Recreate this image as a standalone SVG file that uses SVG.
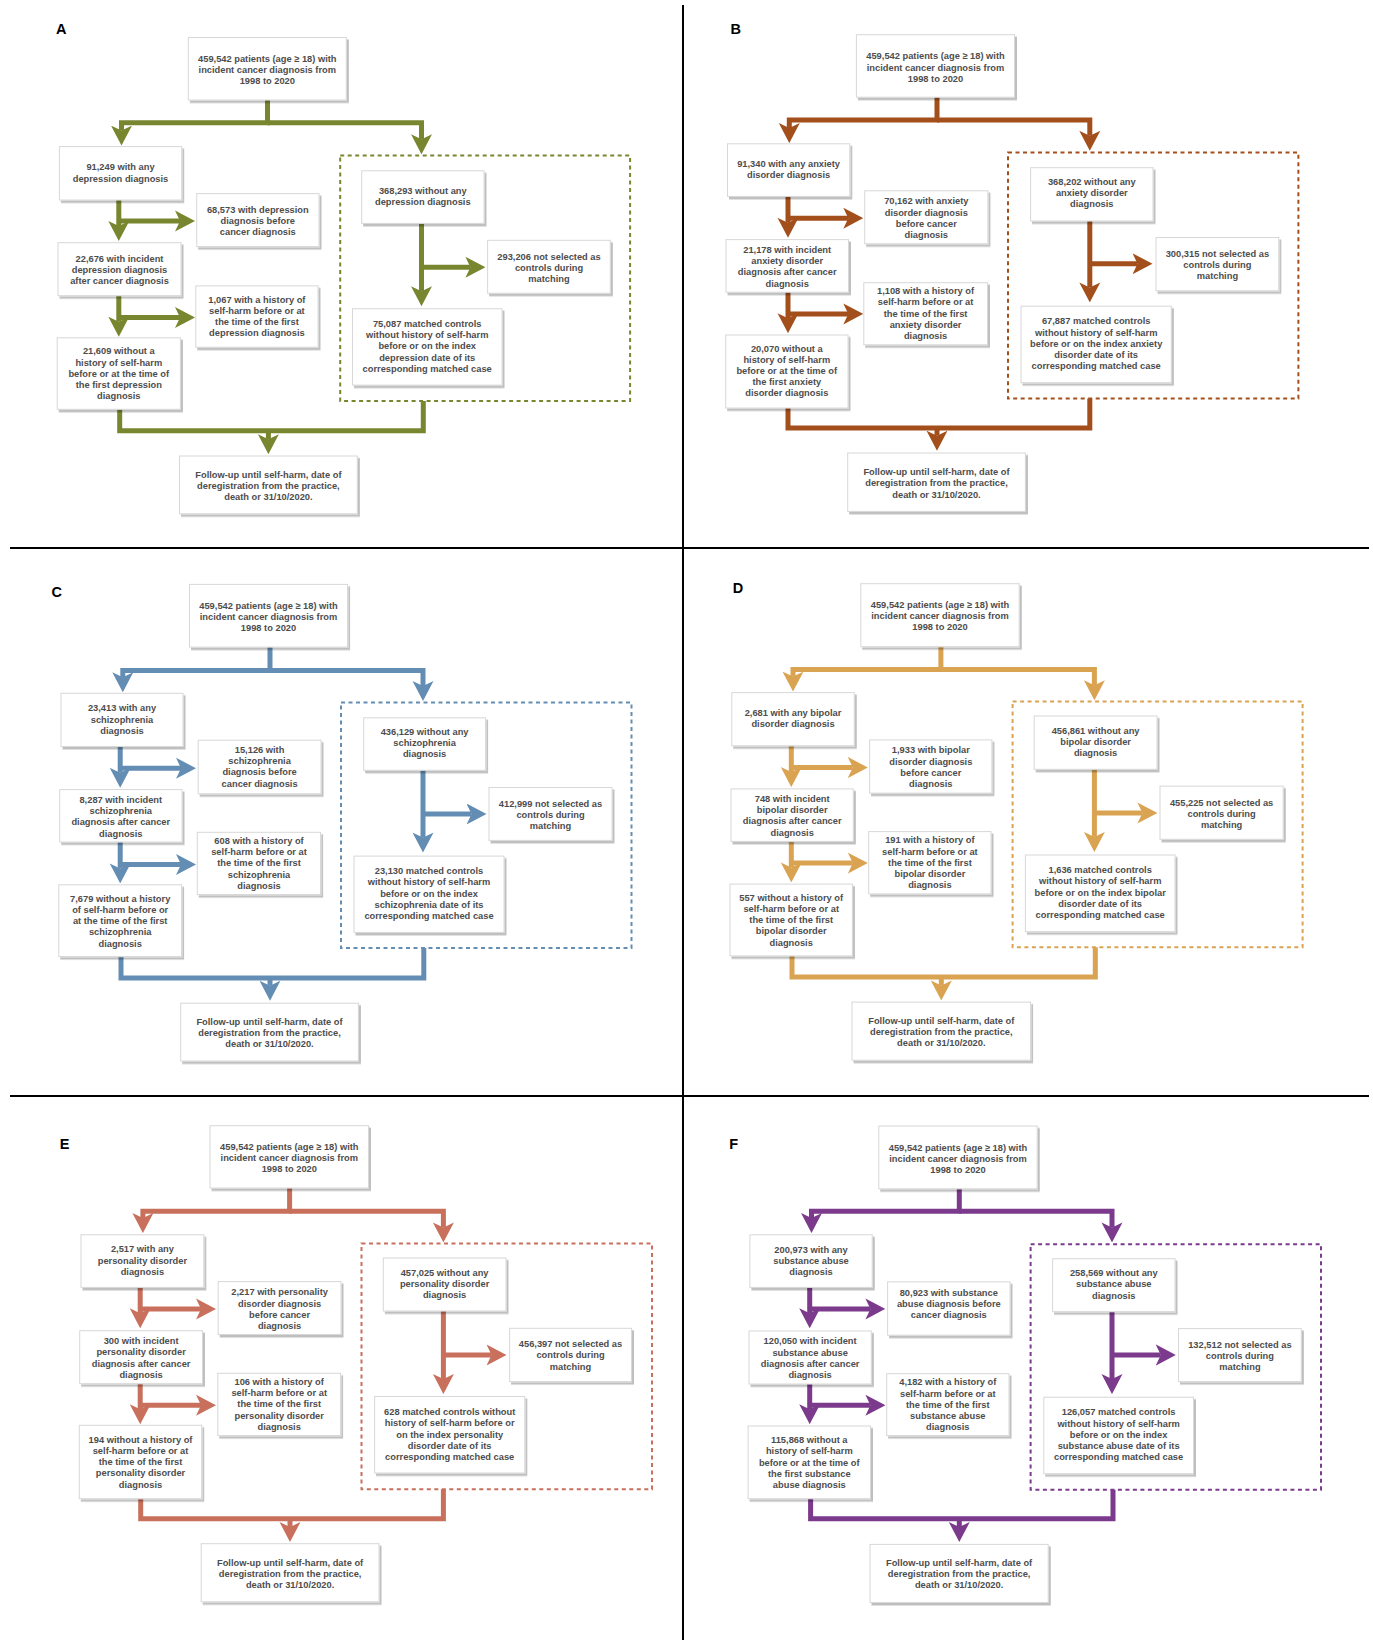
<svg xmlns="http://www.w3.org/2000/svg" width="1373" height="1640" viewBox="0 0 1373 1640">
<defs>
<style>
.bx{fill:#fff;stroke:#d8d8d8;stroke-width:1;filter:url(#sh)}
.t{font-family:"Liberation Sans",Arial,sans-serif;font-weight:bold;font-size:9.3px;fill:#4d4d4d;text-anchor:middle}
.lbl{font-family:"Liberation Sans",Arial,sans-serif;font-weight:bold;font-size:14.5px;fill:#000}
.c{fill:none;stroke-width:5;stroke-linejoin:miter;stroke-linecap:butt}
.d{fill:none;stroke-width:2;stroke-dasharray:4 3.5}
.cA{stroke:#78862f}.cB{stroke:#a34f1c}.cC{stroke:#648db4}.cD{stroke:#d9a352}.cE{stroke:#c8705c}.cF{stroke:#7b3a8c}
.div{stroke:#000;stroke-width:2}
</style>
<filter id="sh" x="-10%" y="-10%" width="125%" height="130%">
<feDropShadow dx="2" dy="2.5" stdDeviation="0.6" flood-color="#000" flood-opacity="0.25"/>
</filter>
<marker id="mA" viewBox="-20 -11 20 22" refX="-15" refY="0" markerWidth="20" markerHeight="22" markerUnits="userSpaceOnUse" orient="auto"><path d="M0,0 L-20,-10.5 L-15,0 L-20,10.5 Z" fill="#78862f"/></marker>
<marker id="mB" viewBox="-20 -11 20 22" refX="-15" refY="0" markerWidth="20" markerHeight="22" markerUnits="userSpaceOnUse" orient="auto"><path d="M0,0 L-20,-10.5 L-15,0 L-20,10.5 Z" fill="#a34f1c"/></marker>
<marker id="mC" viewBox="-20 -11 20 22" refX="-15" refY="0" markerWidth="20" markerHeight="22" markerUnits="userSpaceOnUse" orient="auto"><path d="M0,0 L-20,-10.5 L-15,0 L-20,10.5 Z" fill="#648db4"/></marker>
<marker id="mD" viewBox="-20 -11 20 22" refX="-15" refY="0" markerWidth="20" markerHeight="22" markerUnits="userSpaceOnUse" orient="auto"><path d="M0,0 L-20,-10.5 L-15,0 L-20,10.5 Z" fill="#d9a352"/></marker>
<marker id="mE" viewBox="-20 -11 20 22" refX="-15" refY="0" markerWidth="20" markerHeight="22" markerUnits="userSpaceOnUse" orient="auto"><path d="M0,0 L-20,-10.5 L-15,0 L-20,10.5 Z" fill="#c8705c"/></marker>
<marker id="mF" viewBox="-20 -11 20 22" refX="-15" refY="0" markerWidth="20" markerHeight="22" markerUnits="userSpaceOnUse" orient="auto"><path d="M0,0 L-20,-10.5 L-15,0 L-20,10.5 Z" fill="#7b3a8c"/></marker>
</defs>
<rect width="1373" height="1640" fill="#fff"/>
<g id="dividers">
<line class="div" x1="683" y1="5" x2="683" y2="1640"/>
<line class="div" x1="10" y1="548" x2="1369" y2="548"/>
<line class="div" x1="10" y1="1096" x2="1369" y2="1096"/>
</g>

<!-- Panel A -->
<g id="panelA">
<text class="lbl" x="56" y="33.5">A</text>
<rect id="A-group" class="d cA" x="340.2" y="155.4" width="289.9" height="245.6"/>
<g id="A-connectors">
<path class="c cA" d="M267.5,100 V122.8 H121.5 V130.6" marker-end="url(#mA)"/>
<path class="c cA" d="M267.5,122.8 H421.5 V139.3" marker-end="url(#mA)"/>
<path class="c cA" d="M118.8,200 V226" marker-end="url(#mA)"/>
<path class="c cA" d="M118.8,221 H180" marker-end="url(#mA)"/>
<path class="c cA" d="M118.8,295.7 V321.7" marker-end="url(#mA)"/>
<path class="c cA" d="M118.8,317.4 H180" marker-end="url(#mA)"/>
<path class="c cA" d="M421.5,223.4 V291.2" marker-end="url(#mA)"/>
<path class="c cA" d="M421.5,267.3 H470.4" marker-end="url(#mA)"/>
<path class="c cA" d="M119.7,409.3 V430.7 H423.3 V401"/>
<path class="c cA" d="M268.4,430.7 V439.2" marker-end="url(#mA)"/>
</g>
<g id="A0"><rect class="bx" x="188.3" y="37.5" width="158" height="62.5"/><text class="t"><tspan x="267.3" y="61.9">459,542 patients (age ≥ 18) with</tspan><tspan x="267.3" y="73.1">incident cancer diagnosis from</tspan><tspan x="267.3" y="84.3">1998 to 2020</tspan></text></g>
<g id="A1"><rect class="bx" x="59.4" y="146.6" width="122.3" height="53.4"/><text class="t"><tspan x="120.5" y="170.3">91,249 with any</tspan><tspan x="120.5" y="181.5">depression diagnosis</tspan></text></g>
<g id="A2"><rect class="bx" x="196.7" y="193.6" width="122.3" height="53"/><text class="t"><tspan x="257.8" y="213">68,573 with depression</tspan><tspan x="257.8" y="224.2">diagnosis before</tspan><tspan x="257.8" y="235.4">cancer diagnosis</tspan></text></g>
<g id="A3"><rect class="bx" x="58" y="242.7" width="123" height="53"/><text class="t"><tspan x="119.5" y="261.8">22,676 with incident</tspan><tspan x="119.5" y="273">depression diagnosis</tspan><tspan x="119.5" y="284.2">after cancer diagnosis</tspan></text></g>
<g id="A4"><rect class="bx" x="195.8" y="285.9" width="122.2" height="61.3"/><text class="t"><tspan x="256.9" y="302.5">1,067 with a history of</tspan><tspan x="256.9" y="313.7">self-harm before or at</tspan><tspan x="256.9" y="324.9">the time of the first</tspan><tspan x="256.9" y="336.1">depression diagnosis</tspan></text></g>
<g id="A5"><rect class="bx" x="57.2" y="337.8" width="123.2" height="71.5"/><text class="t"><tspan x="118.8" y="354.4">21,609 without a</tspan><tspan x="118.8" y="365.6">history of self-harm</tspan><tspan x="118.8" y="376.8">before or at the time of</tspan><tspan x="118.8" y="388">the first depression</tspan><tspan x="118.8" y="399.2">diagnosis</tspan></text></g>
<g id="A6"><rect class="bx" x="361.7" y="170.8" width="122.3" height="52.6"/><text class="t"><tspan x="422.8" y="193.8">368,293 without any</tspan><tspan x="422.8" y="205">depression diagnosis</tspan></text></g>
<g id="A7"><rect class="bx" x="487.6" y="240.3" width="122.7" height="52.9"/><text class="t"><tspan x="549" y="259.7">293,206 not selected as</tspan><tspan x="549" y="270.9">controls during</tspan><tspan x="549" y="282.1">matching</tspan></text></g>
<g id="A8"><rect class="bx" x="352.5" y="308.7" width="149.5" height="76.4"/><text class="t"><tspan x="427.2" y="327">75,087 matched controls</tspan><tspan x="427.2" y="338.2">without history of self-harm</tspan><tspan x="427.2" y="349.4">before or on the index</tspan><tspan x="427.2" y="360.6">depression date of its</tspan><tspan x="427.2" y="371.8">corresponding matched case</tspan></text></g>
<g id="A9"><rect class="bx" x="179.5" y="456" width="177.8" height="57.8"/><text class="t"><tspan x="268.4" y="477.9">Follow-up until self-harm, date of</tspan><tspan x="268.4" y="489.1">deregistration from the practice,</tspan><tspan x="268.4" y="500.3">death or 31/10/2020.</tspan></text></g>
</g>

<!-- Panel B -->
<g id="panelB">
<text class="lbl" x="730.5" y="34">B</text>
<rect id="B-group" class="d cB" x="1008" y="152.6" width="290.4" height="245.9"/>
<g id="B-connectors">
<path class="c cB" d="M937,97.2 V120 H789.3 V128.1" marker-end="url(#mB)"/>
<path class="c cB" d="M937,120 H1089.8 V135.8" marker-end="url(#mB)"/>
<path class="c cB" d="M788,196.4 V222.8" marker-end="url(#mB)"/>
<path class="c cB" d="M788,218.2 H848.3" marker-end="url(#mB)"/>
<path class="c cB" d="M788,292.2 V318.2" marker-end="url(#mB)"/>
<path class="c cB" d="M788,313.9 H848.3" marker-end="url(#mB)"/>
<path class="c cB" d="M1089.8,221 V287.4" marker-end="url(#mB)"/>
<path class="c cB" d="M1089.8,263.8 H1137.5" marker-end="url(#mB)"/>
<path class="c cB" d="M788,408 V428 H1089.8 V398.5"/>
<path class="c cB" d="M937,428 V435.7" marker-end="url(#mB)"/>
</g>
<g id="B0"><rect class="bx" x="856.4" y="34.7" width="158.1" height="62.5"/><text class="t"><tspan x="935.5" y="59.4">459,542 patients (age ≥ 18) with</tspan><tspan x="935.5" y="70.6">incident cancer diagnosis from</tspan><tspan x="935.5" y="81.8">1998 to 2020</tspan></text></g>
<g id="B1"><rect class="bx" x="727.5" y="143.8" width="122.3" height="52.6"/><text class="t"><tspan x="788.6" y="167.1">91,340 with any anxiety</tspan><tspan x="788.6" y="178.3">disorder diagnosis</tspan></text></g>
<g id="B2"><rect class="bx" x="864.7" y="190.8" width="123.2" height="53"/><text class="t"><tspan x="926.3" y="204.3">70,162 with anxiety</tspan><tspan x="926.3" y="215.5">disorder diagnosis</tspan><tspan x="926.3" y="226.7">before cancer</tspan><tspan x="926.3" y="237.9">diagnosis</tspan></text></g>
<g id="B3"><rect class="bx" x="726" y="239.6" width="122.5" height="52.6"/><text class="t"><tspan x="787.2" y="253">21,178 with incident</tspan><tspan x="787.2" y="264.2">anxiety disorder</tspan><tspan x="787.2" y="275.4">diagnosis after cancer</tspan><tspan x="787.2" y="286.6">diagnosis</tspan></text></g>
<g id="B4"><rect class="bx" x="863.8" y="282.7" width="123.7" height="62.1"/><text class="t"><tspan x="925.6" y="294.1">1,108 with a history of</tspan><tspan x="925.6" y="305.3">self-harm before or at</tspan><tspan x="925.6" y="316.5">the time of the first</tspan><tspan x="925.6" y="327.7">anxiety disorder</tspan><tspan x="925.6" y="338.9">diagnosis</tspan></text></g>
<g id="B5"><rect class="bx" x="725.7" y="335" width="122.3" height="73"/><text class="t"><tspan x="786.8" y="351.6">20,070 without a</tspan><tspan x="786.8" y="362.8">history of self-harm</tspan><tspan x="786.8" y="374">before or at the time of</tspan><tspan x="786.8" y="385.2">the first anxiety</tspan><tspan x="786.8" y="396.4">disorder diagnosis</tspan></text></g>
<g id="B6"><rect class="bx" x="1030.6" y="167.7" width="122.4" height="53.3"/><text class="t"><tspan x="1091.8" y="185">368,202 without any</tspan><tspan x="1091.8" y="196.2">anxiety disorder</tspan><tspan x="1091.8" y="207.4">diagnosis</tspan></text></g>
<g id="B7"><rect class="bx" x="1156" y="237.5" width="122.8" height="53.3"/><text class="t"><tspan x="1217.4" y="256.5">300,315 not selected as</tspan><tspan x="1217.4" y="267.7">controls during</tspan><tspan x="1217.4" y="278.9">matching</tspan></text></g>
<g id="B8"><rect class="bx" x="1021" y="306.2" width="150.3" height="76.5"/><text class="t"><tspan x="1096.2" y="324.3">67,887 matched controls</tspan><tspan x="1096.2" y="335.5">without history of self-harm</tspan><tspan x="1096.2" y="346.7">before or on the index anxiety</tspan><tspan x="1096.2" y="357.9">disorder date of its</tspan><tspan x="1096.2" y="369.1">corresponding matched case</tspan></text></g>
<g id="B9"><rect class="bx" x="847.7" y="453" width="177.7" height="58.4"/><text class="t"><tspan x="936.5" y="475.1">Follow-up until self-harm, date of</tspan><tspan x="936.5" y="486.3">deregistration from the practice,</tspan><tspan x="936.5" y="497.5">death or 31/10/2020.</tspan></text></g>
</g>

<!-- Panel C -->
<g id="panelC">
<text class="lbl" x="51.4" y="597">C</text>
<rect id="C-group" class="d cC" x="341" y="702.4" width="290.5" height="245.5"/>
<g id="C-connectors">
<path class="c cC" d="M270,647.1 V670.5 H122.8 V677.3" marker-end="url(#mC)"/>
<path class="c cC" d="M270,670.5 H423 V686" marker-end="url(#mC)"/>
<path class="c cC" d="M120.2,746.5 V772.8" marker-end="url(#mC)"/>
<path class="c cC" d="M120.2,768.2 H181" marker-end="url(#mC)"/>
<path class="c cC" d="M120.2,842 V868.4" marker-end="url(#mC)"/>
<path class="c cC" d="M120.2,864.5 H181" marker-end="url(#mC)"/>
<path class="c cC" d="M423,770.3 V837.6" marker-end="url(#mC)"/>
<path class="c cC" d="M423,814.1 H471.5" marker-end="url(#mC)"/>
<path class="c cC" d="M121,956.6 V978 H423.8 V947.9"/>
<path class="c cC" d="M270,978 V985.7" marker-end="url(#mC)"/>
</g>
<g id="C0"><rect class="bx" x="189.5" y="584.4" width="158.1" height="62.7"/><text class="t"><tspan x="268.5" y="608.7">459,542 patients (age ≥ 18) with</tspan><tspan x="268.5" y="619.9">incident cancer diagnosis from</tspan><tspan x="268.5" y="631.1">1998 to 2020</tspan></text></g>
<g id="C1"><rect class="bx" x="61" y="693.3" width="122" height="53.2"/><text class="t"><tspan x="122" y="711.3">23,413 with any</tspan><tspan x="122" y="722.5">schizophrenia</tspan><tspan x="122" y="733.7">diagnosis</tspan></text></g>
<g id="C2"><rect class="bx" x="198.2" y="740.2" width="122.8" height="53.6"/><text class="t"><tspan x="259.6" y="753">15,126 with</tspan><tspan x="259.6" y="764.2">schizophrenia</tspan><tspan x="259.6" y="775.4">diagnosis before</tspan><tspan x="259.6" y="786.6">cancer diagnosis</tspan></text></g>
<g id="C3"><rect class="bx" x="59.7" y="789.6" width="122.3" height="52.4"/><text class="t"><tspan x="120.8" y="803">8,287 with incident</tspan><tspan x="120.8" y="814.2">schizophrenia</tspan><tspan x="120.8" y="825.4">diagnosis after cancer</tspan><tspan x="120.8" y="836.6">diagnosis</tspan></text></g>
<g id="C4"><rect class="bx" x="197.3" y="832.3" width="123.3" height="62.3"/><text class="t"><tspan x="259" y="844">608 with a history of</tspan><tspan x="259" y="855.2">self-harm before or at</tspan><tspan x="259" y="866.4">the time of the first</tspan><tspan x="259" y="877.6">schizophrenia</tspan><tspan x="259" y="888.8">diagnosis</tspan></text></g>
<g id="C5"><rect class="bx" x="58.8" y="884.8" width="122.8" height="71.8"/><text class="t"><tspan x="120.2" y="901.8">7,679 without a history</tspan><tspan x="120.2" y="913">of self-harm before or</tspan><tspan x="120.2" y="924.2">at the time of the first</tspan><tspan x="120.2" y="935.4">schizophrenia</tspan><tspan x="120.2" y="946.6">diagnosis</tspan></text></g>
<g id="C6"><rect class="bx" x="363.7" y="717.8" width="121.9" height="52.5"/><text class="t"><tspan x="424.6" y="734.8">436,129 without any</tspan><tspan x="424.6" y="746">schizophrenia</tspan><tspan x="424.6" y="757.2">diagnosis</tspan></text></g>
<g id="C7"><rect class="bx" x="489" y="787.5" width="123" height="52.9"/><text class="t"><tspan x="550.5" y="806.6">412,999 not selected as</tspan><tspan x="550.5" y="817.8">controls during</tspan><tspan x="550.5" y="829">matching</tspan></text></g>
<g id="C8"><rect class="bx" x="354" y="856.1" width="150" height="76.3"/><text class="t"><tspan x="429" y="874.1">23,130 matched controls</tspan><tspan x="429" y="885.3">without history of self-harm</tspan><tspan x="429" y="896.5">before or on the index</tspan><tspan x="429" y="907.7">schizophrenia date of its</tspan><tspan x="429" y="918.9">corresponding matched case</tspan></text></g>
<g id="C9"><rect class="bx" x="180.7" y="1003.2" width="177.7" height="57.8"/><text class="t"><tspan x="269.5" y="1024.7">Follow-up until self-harm, date of</tspan><tspan x="269.5" y="1035.9">deregistration from the practice,</tspan><tspan x="269.5" y="1047.1">death or 31/10/2020.</tspan></text></g>
</g>

<!-- Panel D -->
<g id="panelD">
<text class="lbl" x="732.7" y="592.5">D</text>
<rect id="D-group" class="d cD" x="1012.6" y="701.4" width="290" height="245.8"/>
<g id="D-connectors">
<path class="c cD" d="M940.9,646.7 V669.5 H793 V676.6" marker-end="url(#mD)"/>
<path class="c cD" d="M940.9,669.5 H1094.4 V685.3" marker-end="url(#mD)"/>
<path class="c cD" d="M791.3,745.8 V772.1" marker-end="url(#mD)"/>
<path class="c cD" d="M791.3,767.5 H852.8" marker-end="url(#mD)"/>
<path class="c cD" d="M791.3,841.4 V867.4" marker-end="url(#mD)"/>
<path class="c cD" d="M791.3,863.1 H852.8" marker-end="url(#mD)"/>
<path class="c cD" d="M1094.4,769.3 V836.9" marker-end="url(#mD)"/>
<path class="c cD" d="M1094.4,813 H1142.4" marker-end="url(#mD)"/>
<path class="c cD" d="M792,955.9 V977 H1095.3 V947.2"/>
<path class="c cD" d="M941.3,977 V985.4" marker-end="url(#mD)"/>
</g>
<g id="D0"><rect class="bx" x="860.8" y="583.7" width="158.4" height="63"/><text class="t"><tspan x="940" y="608">459,542 patients (age ≥ 18) with</tspan><tspan x="940" y="619.2">incident cancer diagnosis from</tspan><tspan x="940" y="630.4">1998 to 2020</tspan></text></g>
<g id="D1"><rect class="bx" x="731.8" y="692.6" width="122.4" height="53.2"/><text class="t"><tspan x="793" y="716.2">2,681 with any bipolar</tspan><tspan x="793" y="727.4">disorder diagnosis</tspan></text></g>
<g id="D2"><rect class="bx" x="869.6" y="739.9" width="122.3" height="53.2"/><text class="t"><tspan x="930.8" y="753.3">1,933 with bipolar</tspan><tspan x="930.8" y="764.5">disorder diagnosis</tspan><tspan x="930.8" y="775.7">before cancer</tspan><tspan x="930.8" y="786.9">diagnosis</tspan></text></g>
<g id="D3"><rect class="bx" x="731" y="788.9" width="122.3" height="52.5"/><text class="t"><tspan x="792.2" y="802">748 with incident</tspan><tspan x="792.2" y="813.2">bipolar disorder</tspan><tspan x="792.2" y="824.4">diagnosis after cancer</tspan><tspan x="792.2" y="835.6">diagnosis</tspan></text></g>
<g id="D4"><rect class="bx" x="868.7" y="831.6" width="122.3" height="62.3"/><text class="t"><tspan x="929.9" y="843.3">191 with a history of</tspan><tspan x="929.9" y="854.5">self-harm before or at</tspan><tspan x="929.9" y="865.7">the time of the first</tspan><tspan x="929.9" y="876.9">bipolar disorder</tspan><tspan x="929.9" y="888.1">diagnosis</tspan></text></g>
<g id="D5"><rect class="bx" x="730" y="884.1" width="122.4" height="71.8"/><text class="t"><tspan x="791.2" y="900.7">557 without a history of</tspan><tspan x="791.2" y="911.9">self-harm before or at</tspan><tspan x="791.2" y="923.1">the time of the first</tspan><tspan x="791.2" y="934.3">bipolar disorder</tspan><tspan x="791.2" y="945.5">diagnosis</tspan></text></g>
<g id="D6"><rect class="bx" x="1034.2" y="716" width="122.8" height="53.3"/><text class="t"><tspan x="1095.6" y="733.7">456,861 without any</tspan><tspan x="1095.6" y="744.9">bipolar disorder</tspan><tspan x="1095.6" y="756.1">diagnosis</tspan></text></g>
<g id="D7"><rect class="bx" x="1160" y="786.1" width="123.2" height="53.2"/><text class="t"><tspan x="1221.6" y="805.5">455,225 not selected as</tspan><tspan x="1221.6" y="816.7">controls during</tspan><tspan x="1221.6" y="827.9">matching</tspan></text></g>
<g id="D8"><rect class="bx" x="1025.4" y="855" width="149.6" height="76.7"/><text class="t"><tspan x="1100.2" y="873.1">1,636 matched controls</tspan><tspan x="1100.2" y="884.3">without history of self-harm</tspan><tspan x="1100.2" y="895.5">before or on the index bipolar</tspan><tspan x="1100.2" y="906.7">disorder date of its</tspan><tspan x="1100.2" y="917.9">corresponding matched case</tspan></text></g>
<g id="D9"><rect class="bx" x="852" y="1002.1" width="178.6" height="58.1"/><text class="t"><tspan x="941.3" y="1024">Follow-up until self-harm, date of</tspan><tspan x="941.3" y="1035.2">deregistration from the practice,</tspan><tspan x="941.3" y="1046.4">death or 31/10/2020.</tspan></text></g>
</g>

<!-- Panel E -->
<g id="panelE">
<text class="lbl" x="59.7" y="1149">E</text>
<rect id="E-group" class="d cE" x="361.5" y="1243.5" width="290.5" height="245.8"/>
<g id="E-connectors">
<path class="c cE" d="M289.6,1188 V1211.3 H142.9 V1218.1" marker-end="url(#mE)"/>
<path class="c cE" d="M289.6,1211.3 H443.4 V1227.4" marker-end="url(#mE)"/>
<path class="c cE" d="M140.2,1287.4 V1313.3" marker-end="url(#mE)"/>
<path class="c cE" d="M140.2,1308.9 H201" marker-end="url(#mE)"/>
<path class="c cE" d="M140.2,1383.7 V1409.2" marker-end="url(#mE)"/>
<path class="c cE" d="M140.2,1405.2 H201" marker-end="url(#mE)"/>
<path class="c cE" d="M443.4,1311 V1379.1" marker-end="url(#mE)"/>
<path class="c cE" d="M443.4,1355 H491.5" marker-end="url(#mE)"/>
<path class="c cE" d="M140.7,1498.7 V1518.7 H443.4 V1489.3"/>
<path class="c cE" d="M290,1518.7 V1527" marker-end="url(#mE)"/>
</g>
<g id="E0"><rect class="bx" x="210" y="1125.7" width="158.5" height="62.3"/><text class="t"><tspan x="289.3" y="1149.8">459,542 patients (age ≥ 18) with</tspan><tspan x="289.3" y="1161">incident cancer diagnosis from</tspan><tspan x="289.3" y="1172.2">1998 to 2020</tspan></text></g>
<g id="E1"><rect class="bx" x="81" y="1234.8" width="122.8" height="52.6"/><text class="t"><tspan x="142.4" y="1252.3">2,517 with any</tspan><tspan x="142.4" y="1263.5">personality disorder</tspan><tspan x="142.4" y="1274.7">diagnosis</tspan></text></g>
<g id="E2"><rect class="bx" x="218.2" y="1281.6" width="122.8" height="52.9"/><text class="t"><tspan x="279.6" y="1295.3">2,217 with personality</tspan><tspan x="279.6" y="1306.5">disorder diagnosis</tspan><tspan x="279.6" y="1317.7">before cancer</tspan><tspan x="279.6" y="1328.9">diagnosis</tspan></text></g>
<g id="E3"><rect class="bx" x="79.7" y="1330.7" width="122.8" height="53"/><text class="t"><tspan x="141.1" y="1344.1">300 with incident</tspan><tspan x="141.1" y="1355.3">personality disorder</tspan><tspan x="141.1" y="1366.5">diagnosis after cancer</tspan><tspan x="141.1" y="1377.7">diagnosis</tspan></text></g>
<g id="E4"><rect class="bx" x="217.8" y="1373.3" width="122.8" height="62.3"/><text class="t"><tspan x="279.2" y="1384.9">106 with a history of</tspan><tspan x="279.2" y="1396.1">self-harm before or at</tspan><tspan x="279.2" y="1407.3">the time of the first</tspan><tspan x="279.2" y="1418.5">personality disorder</tspan><tspan x="279.2" y="1429.7">diagnosis</tspan></text></g>
<g id="E5"><rect class="bx" x="79.3" y="1425.3" width="122.4" height="73.4"/><text class="t"><tspan x="140.5" y="1442.7">194 without a history of</tspan><tspan x="140.5" y="1453.9">self-harm before or at</tspan><tspan x="140.5" y="1465.1">the time of the first</tspan><tspan x="140.5" y="1476.3">personality disorder</tspan><tspan x="140.5" y="1487.5">diagnosis</tspan></text></g>
<g id="E6"><rect class="bx" x="383.3" y="1258" width="122.7" height="53"/><text class="t"><tspan x="444.6" y="1275.9">457,025 without any</tspan><tspan x="444.6" y="1287.1">personality disorder</tspan><tspan x="444.6" y="1298.3">diagnosis</tspan></text></g>
<g id="E7"><rect class="bx" x="509.6" y="1328.3" width="121.9" height="53.3"/><text class="t"><tspan x="570.5" y="1347.2">456,397 not selected as</tspan><tspan x="570.5" y="1358.4">controls during</tspan><tspan x="570.5" y="1369.6">matching</tspan></text></g>
<g id="E8"><rect class="bx" x="374.6" y="1396.5" width="150.2" height="76.5"/><text class="t"><tspan x="449.7" y="1415.1">628 matched controls without</tspan><tspan x="449.7" y="1426.3">history of self-harm before or</tspan><tspan x="449.7" y="1437.5">on the index personality</tspan><tspan x="449.7" y="1448.7">disorder date of its</tspan><tspan x="449.7" y="1459.9">corresponding matched case</tspan></text></g>
<g id="E9"><rect class="bx" x="201.2" y="1543.7" width="177.8" height="58.1"/><text class="t"><tspan x="290.1" y="1565.7">Follow-up until self-harm, date of</tspan><tspan x="290.1" y="1576.9">deregistration from the practice,</tspan><tspan x="290.1" y="1588.1">death or 31/10/2020.</tspan></text></g>
</g>

<!-- Panel F -->
<g id="panelF">
<text class="lbl" x="729.2" y="1149">F</text>
<rect id="F-group" class="d cF" x="1030.6" y="1244.2" width="290.4" height="245.5"/>
<g id="F-connectors">
<path class="c cF" d="M959.3,1188.8 V1211.3 H811.5 V1218" marker-end="url(#mF)"/>
<path class="c cF" d="M959.3,1211.3 H1112 V1227.4" marker-end="url(#mF)"/>
<path class="c cF" d="M809.7,1287.4 V1313.3" marker-end="url(#mF)"/>
<path class="c cF" d="M809.7,1308.9 H870.4" marker-end="url(#mF)"/>
<path class="c cF" d="M809.7,1384 V1409.2" marker-end="url(#mF)"/>
<path class="c cF" d="M809.7,1405.2 H870.4" marker-end="url(#mF)"/>
<path class="c cF" d="M1112,1311.7 V1379.1" marker-end="url(#mF)"/>
<path class="c cF" d="M1112,1355 H1160.8" marker-end="url(#mF)"/>
<path class="c cF" d="M810.6,1498.7 V1518.7 H1113 V1489.7"/>
<path class="c cF" d="M959.3,1518.7 V1527" marker-end="url(#mF)"/>
</g>
<g id="F0"><rect class="bx" x="878.8" y="1126" width="158.4" height="62.8"/><text class="t"><tspan x="958" y="1150.5">459,542 patients (age ≥ 18) with</tspan><tspan x="958" y="1161.7">incident cancer diagnosis from</tspan><tspan x="958" y="1172.9">1998 to 2020</tspan></text></g>
<g id="F1"><rect class="bx" x="749.9" y="1234.8" width="122.3" height="52.6"/><text class="t"><tspan x="811" y="1252.7">200,973 with any</tspan><tspan x="811" y="1263.9">substance abuse</tspan><tspan x="811" y="1275.1">diagnosis</tspan></text></g>
<g id="F2"><rect class="bx" x="887.6" y="1281.9" width="122.4" height="53.3"/><text class="t"><tspan x="948.8" y="1295.6">80,923 with substance</tspan><tspan x="948.8" y="1306.8">abuse diagnosis before</tspan><tspan x="948.8" y="1318">cancer diagnosis</tspan></text></g>
<g id="F3"><rect class="bx" x="749" y="1331" width="122.3" height="53"/><text class="t"><tspan x="810.1" y="1344.4">120,050 with incident</tspan><tspan x="810.1" y="1355.6">substance abuse</tspan><tspan x="810.1" y="1366.8">diagnosis after cancer</tspan><tspan x="810.1" y="1378">diagnosis</tspan></text></g>
<g id="F4"><rect class="bx" x="886.7" y="1373.7" width="122.3" height="61.9"/><text class="t"><tspan x="947.8" y="1385.3">4,182 with a history of</tspan><tspan x="947.8" y="1396.5">self-harm before or at</tspan><tspan x="947.8" y="1407.7">the time of the first</tspan><tspan x="947.8" y="1418.9">substance abuse</tspan><tspan x="947.8" y="1430.1">diagnosis</tspan></text></g>
<g id="F5"><rect class="bx" x="748.1" y="1426" width="122.4" height="72.7"/><text class="t"><tspan x="809.3" y="1443.1">115,868 without a</tspan><tspan x="809.3" y="1454.3">history of self-harm</tspan><tspan x="809.3" y="1465.5">before or at the time of</tspan><tspan x="809.3" y="1476.7">the first substance</tspan><tspan x="809.3" y="1487.9">abuse diagnosis</tspan></text></g>
<g id="F6"><rect class="bx" x="1052.6" y="1258.7" width="122.4" height="53"/><text class="t"><tspan x="1113.8" y="1276.2">258,569 without any</tspan><tspan x="1113.8" y="1287.4">substance abuse</tspan><tspan x="1113.8" y="1298.6">diagnosis</tspan></text></g>
<g id="F7"><rect class="bx" x="1178.5" y="1328.6" width="122.8" height="53"/><text class="t"><tspan x="1239.9" y="1347.9">132,512 not selected as</tspan><tspan x="1239.9" y="1359.1">controls during</tspan><tspan x="1239.9" y="1370.3">matching</tspan></text></g>
<g id="F8"><rect class="bx" x="1043.8" y="1397.2" width="149.7" height="76.5"/><text class="t"><tspan x="1118.6" y="1415.3">126,057 matched controls</tspan><tspan x="1118.6" y="1426.5">without history of self-harm</tspan><tspan x="1118.6" y="1437.7">before or on the index</tspan><tspan x="1118.6" y="1448.9">substance abuse date of its</tspan><tspan x="1118.6" y="1460.1">corresponding matched case</tspan></text></g>
<g id="F9"><rect class="bx" x="870" y="1544.4" width="178.2" height="58.1"/><text class="t"><tspan x="959.1" y="1566">Follow-up until self-harm, date of</tspan><tspan x="959.1" y="1577.2">deregistration from the practice,</tspan><tspan x="959.1" y="1588.4">death or 31/10/2020.</tspan></text></g>
</g>
</svg>
